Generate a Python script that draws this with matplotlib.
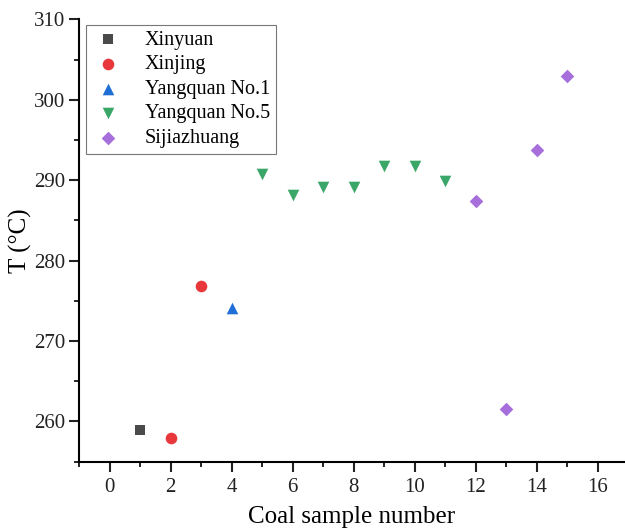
import numpy as np
import matplotlib.pyplot as plt
from matplotlib.ticker import MultipleLocator

plt.rcParams['font.family'] = ['Liberation Serif', 'DejaVu Serif']

# 数据
xinyuan_x = [1]
xinyuan_t = [259.0]
xinjing_x = [2, 3]
xinjing_t = [258.0, 276.9]
yq1_x = [4]
yq1_t = [274.1]
yq5_x = [5, 6, 7, 8, 9, 10, 11]
yq5_t = [290.8, 288.2, 289.1, 289.1, 291.7, 291.7, 289.9]
sjz_x = [12, 13, 14, 15]
sjz_t = [287.4, 261.5, 293.7, 303.0]

series = [
    ("Xinyuan", xinyuan_x, xinyuan_t, "s", "#4a4a4a", 55),
    ("Xinjing", xinjing_x, xinjing_t, "o", "#e8383b", 70),
    ("Yangquan No.1", yq1_x, yq1_t, "^", "#1f6fd6", 70),
    ("Yangquan No.5", yq5_x, yq5_t, "v", "#3aa768", 70),
    ("Sijiazhuang", sjz_x, sjz_t, "D", "#a66fdb", 48),
]

fig = plt.figure(figsize=(6.25, 5.30), dpi=100)
ax = fig.add_axes([0.1264, 0.1289, 0.8736, 0.8347])

for name, xs, ts, mk, c, s in series:
    ax.scatter(xs, ts, marker=mk, color=c, s=s, label=name, linewidths=0)

ax.set_xlim(-1, 16.9)
ax.set_ylim(255, 310)
ax.xaxis.set_major_locator(MultipleLocator(2))
ax.xaxis.set_minor_locator(MultipleLocator(1))
ax.yaxis.set_major_locator(MultipleLocator(10))
ax.yaxis.set_minor_locator(MultipleLocator(5))

ax.spines['top'].set_visible(False)
ax.spines['right'].set_visible(False)
for sp in ('left', 'bottom'):
    ax.spines[sp].set_linewidth(1.5)
ax.tick_params(which='major', direction='out', length=7, width=1.5, labelsize=15, colors='#222222')
ax.tick_params(which='minor', direction='out', length=3.5, width=1.2)
ax.tick_params(axis='x', pad=5)
ax.tick_params(axis='y', pad=3)

ax.set_xlabel('Coal sample number', fontsize=18, labelpad=6)
ax.set_ylabel('T (°C)', fontsize=18, labelpad=1)

leg = ax.legend(loc='upper left', bbox_to_anchor=(0.013, 0.988), fontsize=14.5,
                frameon=True, fancybox=False, handletextpad=1.0, borderpad=0.3,
                labelspacing=0.27, handlelength=1.6, borderaxespad=0)
leg.get_frame().set_edgecolor('#555555')
leg.get_frame().set_linewidth(0.8)

plt.savefig('out.png', dpi=100)
